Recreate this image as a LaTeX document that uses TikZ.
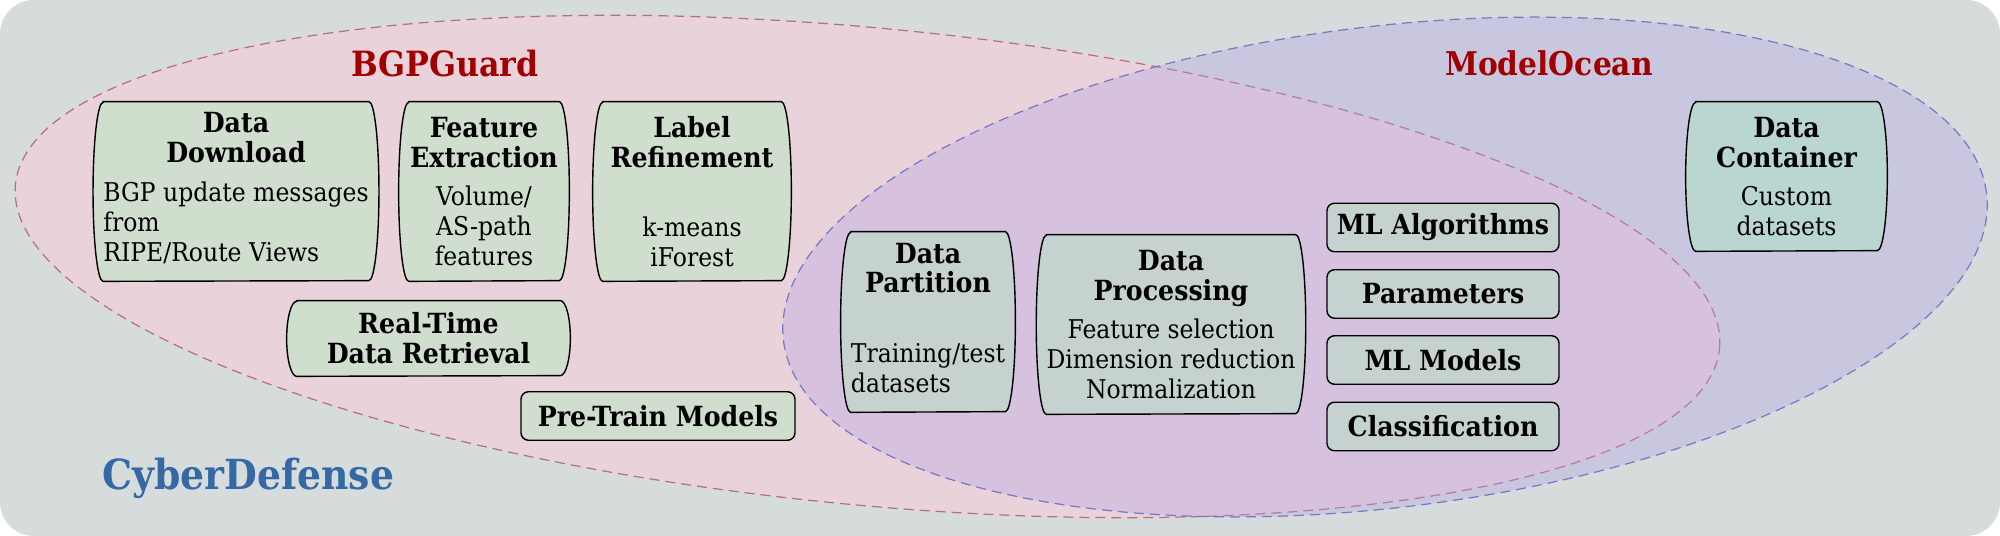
\documentclass[tikz,border=0pt]{standalone}
\usepackage{fontspec}
\setmainfont{DejaVu Serif}[FakeStretch=0.91]
\usepackage{tikz}
\pgfdeclarelayer{bg}
\pgfsetlayers{bg,main}

\definecolor{canvas}{RGB}{214,219,220}
\definecolor{guardfill}{RGB}{252,203,218}
\definecolor{guardline}{RGB}{184,110,130}
\definecolor{oceanfill}{RGB}{171,156,233}
\definecolor{oceanline}{RGB}{118,120,200}
\definecolor{boxguard}{RGB}{208,222,206}
\definecolor{boxmix}{RGB}{197,210,208}
\definecolor{boxocean}{RGB}{185,214,208}
\definecolor{titlered}{RGB}{160,0,0}
\definecolor{cyberblue}{RGB}{52,105,165}

\newcommand\hd[1]{{\fontsize{15.8}{17}\bfseries\selectfont #1}}
% frame with bulging sides round a part node: node, half height, fill
\newcommand\bulgeframe[3]{%
  \draw[line width=0.8pt, fill=#3] (#1.north west) -- (#1.north east)
    arc[start angle=90, end angle=-90, x radius=0.2cm, y radius=#2cm]
    -- (#1.south west)
    arc[start angle=270, end angle=90, x radius=0.2cm, y radius=#2cm] -- cycle;}

\tikzset{
  part/.style={inner sep=0pt, align=center, font=\fontsize{14.7}{17}\selectfont},
  tag/.style={draw, line width=0.8pt, rounded corners=0.15cm, inner sep=0pt,
    minimum width=4.64cm, minimum height=0.97cm, font=\fontsize{15.8}{17}\bfseries\selectfont},
  region/.style={line width=0.7pt, dash pattern=on 0.2cm off 0.12cm},
}

\begin{document}
\begin{tikzpicture}
        \useasboundingbox (0cm, 0cm) rectangle (40cm, 10.72cm);

        \node (guard) [anchor=base, inner sep=0pt, text=titlered, font=\fontsize{19.8}{22}\bfseries\selectfont] at (8.90cm, 9.18cm) {BGPGuard};
        \node (ocean) [anchor=base, inner sep=0pt, text=titlered, font=\fontsize{18.6}{22}\bfseries\selectfont] at (30.98cm, 9.20cm) {ModelOcean};
        \node (cyber) [anchor=base west, inner sep=0pt, text=cyberblue, font=\fontsize{23.6}{26}\bfseries\selectfont] at (2.04cm, 0.92cm) {CyberDefense};

        \node (dd) [part, minimum width=5.28cm, minimum height=3.58cm] at (4.72cm, 6.89cm)
                {\hd{Data}\\\hd{Download}\\[5pt]\begin{tabular}[t]{@{}l@{}}BGP update messages\\from\\RIPE/Route Views\end{tabular}};
        \node (fe) [part, minimum width=3.00cm, minimum height=3.58cm] at (9.68cm, 6.89cm)
                {\hd{Feature}\\\hd{Extraction}\\[5pt]Volume/\\AS-path\\features};
        \node (lr) [part, minimum width=3.56cm, minimum height=3.58cm] at (13.84cm, 6.89cm)
                {\hd{Label}\\\hd{Refinement}\\[22.5pt]k-means\\iForest};
        \node (rt) [part, minimum width=5.26cm, minimum height=1.50cm] at (8.57cm, 3.95cm)
                {\hd{Real-Time}\\\hd{Data Retrieval}};
        \node (pt) [tag, fill=boxguard, minimum width=5.48cm] at (13.16cm, 2.40cm) {Pre-Train Models};

        \node (dpa) [part, minimum width=3.00cm, minimum height=3.60cm] at (18.56cm, 4.28cm)
                {\hd{Data}\\\hd{Partition}\\[22.5pt]\begin{tabular}[t]{@{}l@{}}Training/test\\datasets\end{tabular}};
        \node (dpr) [part, minimum width=4.88cm, minimum height=3.58cm] at (23.42cm, 4.23cm)
                {\hd{Data}\\\hd{Processing}\\[5pt]Feature selection\\Dimension reduction\\Normalization};
        \node (mla) [tag, fill=boxmix] at (28.86cm, 6.17cm) {ML Algorithms};
        \node (par) [tag, fill=boxmix] at (28.86cm, 4.84cm) {Parameters};
        \node (mlm) [tag, fill=boxmix] at (28.86cm, 3.52cm) {ML Models};
        \node (cls) [tag, fill=boxmix] at (28.86cm, 2.19cm) {Classification};

        \node (dc) [part, minimum width=3.62cm, minimum height=2.98cm] at (35.73cm, 7.19cm)
                {\hd{Data}\\\hd{Container}\\[5pt]Custom\\datasets};

        \begin{pgfonlayer}{bg}
                \fill[canvas, rounded corners=0.68cm] (0cm, 0cm) rectangle (40cm, 10.72cm);
                \draw[region, guardline, fill=guardfill, fill opacity=0.5, rotate around={-5.49:(17.35cm, 5.39cm)}]
                        (17.35cm, 5.39cm) ellipse [x radius=17.12cm, y radius=4.77cm];
                \draw[region, oceanline, fill=oceanfill, fill opacity=0.3, rotate around={6.99:(27.70cm, 5.38cm)}]
                        (27.70cm, 5.38cm) ellipse [x radius=12.12cm, y radius=4.81cm];
                \bulgeframe{dd}{1.79}{boxguard}
                \bulgeframe{fe}{1.79}{boxguard}
                \bulgeframe{lr}{1.79}{boxguard}
                \bulgeframe{rt}{0.75}{boxguard}
                \bulgeframe{dpa}{1.80}{boxmix}
                \bulgeframe{dpr}{1.79}{boxmix}
                \bulgeframe{dc}{1.49}{boxocean}
        \end{pgfonlayer}
\end{tikzpicture}
\end{document}
